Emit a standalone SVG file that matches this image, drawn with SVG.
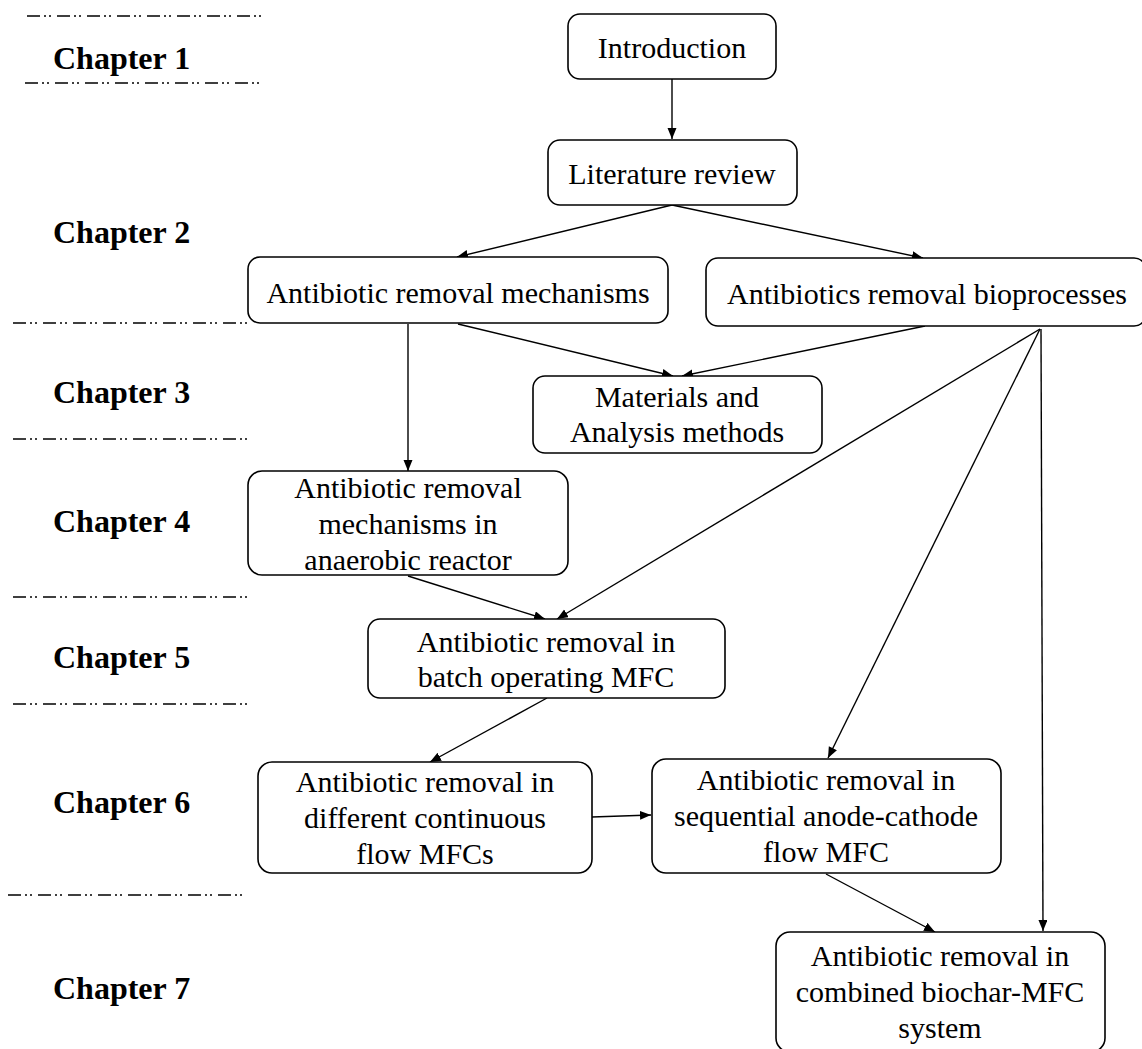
<svg xmlns="http://www.w3.org/2000/svg" width="1142" height="1049" viewBox="0 0 1142 1049">
<defs>
<style>
.box{fill:#fff;stroke:#000;stroke-width:1.6}
.t{font-family:"Liberation Serif","Times New Roman",serif;font-size:30px;fill:#000;text-anchor:middle}
.ch{font-family:"Liberation Serif","Times New Roman",serif;font-size:32px;font-weight:bold;fill:#000}
.sep{stroke:#000;stroke-width:1.4;stroke-dasharray:13 4 2 3 2 6;fill:none}
.c{stroke:#000;stroke-width:1.4;fill:none;marker-end:url(#ah)}
</style>
<marker id="ah" markerUnits="userSpaceOnUse" markerWidth="12" markerHeight="10" refX="11" refY="4.5" orient="auto">
<path d="M0,0 L11,4.5 L0,9 z" fill="#000"/>
</marker>
</defs>
<rect width="1142" height="1049" fill="#fff"/>
<g id="separators">
<line class="sep" x1="27" y1="16" x2="263" y2="16"/>
<line class="sep" x1="25" y1="83" x2="262" y2="83"/>
<line class="sep" x1="13" y1="323" x2="248" y2="323"/>
<line class="sep" x1="13" y1="439" x2="248" y2="439"/>
<line class="sep" x1="13" y1="597" x2="248" y2="597"/>
<line class="sep" x1="13" y1="704" x2="248" y2="704"/>
<line class="sep" x1="8" y1="895" x2="243" y2="895"/>
</g>
<g id="chapters">
<text class="ch" x="53" y="69">Chapter 1</text>
<text class="ch" x="53" y="243">Chapter 2</text>
<text class="ch" x="53" y="403">Chapter 3</text>
<text class="ch" x="53" y="532">Chapter 4</text>
<text class="ch" x="53" y="668">Chapter 5</text>
<text class="ch" x="53" y="813">Chapter 6</text>
<text class="ch" x="53" y="999">Chapter 7</text>
</g>
<g id="connectors">
<line class="c" x1="672" y1="79" x2="672" y2="139"/>
<line class="c" x1="672" y1="205" x2="457" y2="257"/>
<line class="c" x1="672" y1="205" x2="923" y2="258"/>
<line class="c" x1="458" y1="324" x2="673" y2="376"/>
<line class="c" x1="925" y1="326" x2="682" y2="376"/>
<line class="c" x1="408" y1="324" x2="408" y2="471"/>
<line class="c" x1="1040" y1="329" x2="557" y2="619"/>
<line class="c" x1="1040" y1="329" x2="828" y2="758"/>
<line class="c" x1="1041" y1="329" x2="1043" y2="931"/>
<line class="c" x1="408" y1="576" x2="545" y2="619"/>
<line class="c" x1="547" y1="698" x2="430" y2="762"/>
<line class="c" x1="592" y1="817" x2="651" y2="815"/>
<line class="c" x1="826" y1="874" x2="935" y2="932"/>
</g>
<g id="n-introduction">
<rect class="box" x="568" y="14" width="208" height="65" rx="12"/>
<text class="t" x="672" y="58">Introduction</text>
</g>
<g id="n-literature">
<rect class="box" x="548" y="140" width="249" height="65" rx="12"/>
<text class="t" x="672" y="184">Literature review</text>
</g>
<g id="n-mechanisms">
<rect class="box" x="248" y="257" width="420" height="66" rx="12"/>
<text class="t" x="458" y="303">Antibiotic removal mechanisms</text>
</g>
<g id="n-bioprocesses">
<rect class="box" x="706" y="258" width="440" height="68" rx="12"/>
<text class="t" x="927" y="304">Antibiotics removal bioprocesses</text>
</g>
<g id="n-materials">
<rect class="box" x="533" y="376" width="289" height="77" rx="12"/>
<text class="t" x="677" y="407">Materials and</text>
<text class="t" x="677" y="442">Analysis methods</text>
</g>
<g id="n-anaerobic">
<rect class="box" x="248" y="471" width="320" height="104" rx="14"/>
<text class="t" x="408" y="498">Antibiotic removal</text>
<text class="t" x="408" y="534">mechanisms in</text>
<text class="t" x="408" y="570">anaerobic reactor</text>
</g>
<g id="n-batch">
<rect class="box" x="368" y="619" width="357" height="79" rx="12"/>
<text class="t" x="546" y="652">Antibiotic removal in</text>
<text class="t" x="546" y="687">batch operating MFC</text>
</g>
<g id="n-continuous">
<rect class="box" x="258" y="762" width="334" height="111" rx="14"/>
<text class="t" x="425" y="792">Antibiotic removal in</text>
<text class="t" x="425" y="828">different continuous</text>
<text class="t" x="425" y="864">flow MFCs</text>
</g>
<g id="n-sequential">
<rect class="box" x="652" y="759" width="349" height="114" rx="14"/>
<text class="t" x="826" y="790">Antibiotic removal in</text>
<text class="t" x="826" y="826">sequential anode-cathode</text>
<text class="t" x="826" y="862">flow MFC</text>
</g>
<g id="n-biochar">
<rect class="box" x="776" y="932" width="329" height="120" rx="14"/>
<text class="t" x="940" y="966">Antibiotic removal in</text>
<text class="t" x="940" y="1002">combined biochar-MFC</text>
<text class="t" x="940" y="1038">system</text>
</g>
</svg>
